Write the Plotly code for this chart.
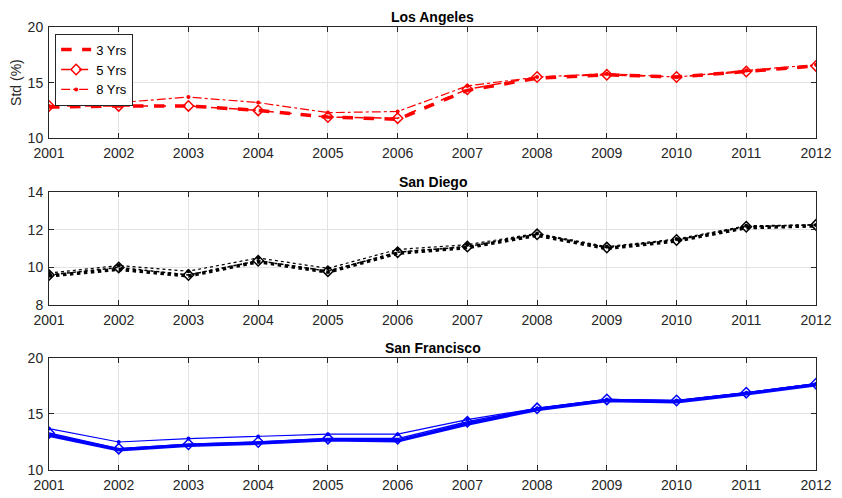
import plotly.graph_objects as go

years = list(range(2001, 2013))
series = ['3 Yrs', '5 Yrs', '8 Yrs']

la_3 = [12.8, 12.9, 12.9, 12.5, 11.9, 11.7, 14.3, 15.4, 15.7, 15.5, 16.0, 16.5]
la_5 = [12.9, 12.9, 12.9, 12.5, 11.9, 11.8, 14.4, 15.5, 15.7, 15.5, 16.0, 16.5]
la_8 = [12.9, 13.2, 13.7, 13.2, 12.3, 12.4, 14.7, 15.5, 15.8, 15.5, 16.1, 16.6]

sd_3 = [9.55, 9.9, 9.55, 10.3, 9.75, 10.75, 11.05, 11.7, 11.0, 11.4, 12.1, 12.2]
sd_5 = [9.6, 10.0, 9.6, 10.35, 9.8, 10.8, 11.1, 11.75, 11.05, 11.45, 12.15, 12.25]
sd_8 = [9.7, 10.1, 9.8, 10.5, 9.95, 10.95, 11.2, 11.8, 11.1, 11.5, 12.2, 12.25]

sf_3 = [13.1, 11.8, 12.2, 12.4, 12.7, 12.6, 14.1, 15.4, 16.2, 16.1, 16.8, 17.6]
sf_5 = [13.3, 11.9, 12.3, 12.5, 12.8, 12.8, 14.3, 15.5, 16.3, 16.2, 16.9, 17.7]
sf_8 = [13.7, 12.5, 12.8, 13.0, 13.2, 13.2, 14.5, 15.5, 16.3, 16.2, 16.9, 17.7]

panels = [
    ('Los Angeles', [la_3, la_5, la_8], 'red', ['dash', 'dash', 'dashdot'], [10, 20], 5, [0.749, 1.0]),
    ('San Diego', [sd_3, sd_5, sd_8], 'black', ['dot', 'dot', 'dot'], [8, 14], 2, [0.372, 0.628]),
    ('San Francisco', [sf_3, sf_5, sf_8], 'blue', ['solid', 'solid', 'solid'], [10, 20], 5, [0.0, 0.253]),
]

font = 'Liberation Sans, Arial'
fig = go.Figure()
layout = {}
for i, (title, data, color, dashes, yr, dt, dom) in enumerate(panels):
    n = '' if i == 0 else str(i + 1)
    widths = [3.5, 1.5, 1.2]
    markers = [dict(size=1, opacity=0), dict(symbol='diamond-open', size=8, line=dict(width=1.5)),
               dict(symbol='circle', size=4)]
    modes = ['lines', 'lines+markers', 'lines+markers']
    for j in range(3):
        fig.add_trace(go.Scatter(
            x=years, y=data[j], name=series[j], mode=modes[j],
            line=dict(color=color, width=widths[j], dash=dashes[j]),
            marker=dict(color=color, **markers[j]),
            xaxis='x' + n, yaxis='y' + n, showlegend=(i == 0)))
    ax = dict(showline=True, linecolor='#262626', linewidth=1, mirror='ticks',
              ticks='inside', ticklen=5, tickcolor='#262626', automargin=False,
              showgrid=True, gridcolor='#e3e3e3', zeroline=False,
              tickfont=dict(family=font, size=14, color='#262626'))
    layout['xaxis' + n] = dict(ax, range=[2001, 2012], dtick=1, anchor='y' + n, ticklabelstandoff=2)
    layout['yaxis' + n] = dict(ax, range=yr, dtick=dt, domain=dom, anchor='x' + n, ticklabelstandoff=2)
    fig.add_annotation(text='<b>' + title + '</b>', x=0.5, y=dom[1], xref='paper', yref='paper',
                       yanchor='bottom', showarrow=False, yshift=0,
                       font=dict(family=font, size=14, color='black'))

layout['yaxis']['title'] = dict(text='Std (%)', standoff=8,
                                font=dict(family=font, size=14, color='#262626'))
fig.update_layout(**layout)
fig.update_layout(
    width=842, height=490, margin=dict(l=41, r=34, t=19, b=28),
    plot_bgcolor='white', paper_bgcolor='white',
    legend=dict(x=0.008, y=0.985, xanchor='left', yanchor='top', bgcolor='white',
                bordercolor='#262626', borderwidth=1, tracegroupgap=0,
                font=dict(family=font, size=13, color='black')),
)
fig.write_html('out.html')
